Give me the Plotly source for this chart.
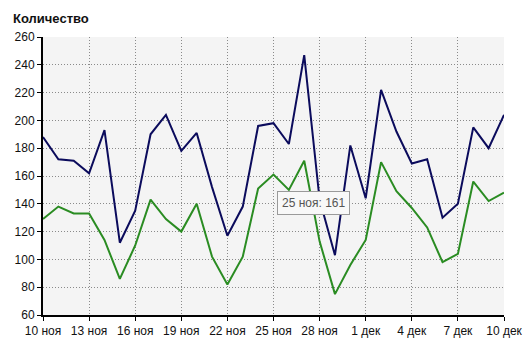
import plotly.graph_objects as go
import pandas as pd

dates = pd.date_range("2012-11-10", "2012-12-10", freq="D").strftime("%Y-%m-%d").tolist()

series_total = [188, 172, 171, 162, 193, 112, 135, 190, 204, 178, 191, 152, 117, 138, 196, 198,
                183, 247, 143, 103, 182, 144, 222, 192, 169, 172, 130, 140, 195, 180, 204]
series_green = [129, 138, 133, 133, 114, 86, 110, 143, 129, 120, 140, 102, 82, 102, 151, 161,
                150, 171, 113, 75, 96, 114, 170, 149, 137, 123, 98, 104, 156, 142, 148]

tick_dates = ["2012-11-10", "2012-11-13", "2012-11-16", "2012-11-19", "2012-11-22", "2012-11-25",
              "2012-11-28", "2012-12-01", "2012-12-04", "2012-12-07", "2012-12-10"]
tick_labels = ["10 ноя", "13 ноя", "16 ноя", "19 ноя", "22 ноя", "25 ноя",
               "28 ноя", "1 дек", "4 дек", "7 дек", "10 дек"]
y_ticks = [60, 80, 100, 120, 140, 160, 180, 200, 220, 240, 260]

tooltip_text = "25 ноя: 161"

fig = go.Figure()
fig.add_trace(go.Scatter(x=dates, y=series_total, mode="lines",
                         line=dict(color="#0b0b5c", width=2), hoverinfo="skip"))
fig.add_trace(go.Scatter(x=dates, y=series_green, mode="lines",
                         line=dict(color="#2a8c22", width=2), hoverinfo="skip"))

font_main = "Liberation Sans, Arial, sans-serif"

fig.update_layout(
    width=531, height=342,
    margin=dict(l=43, r=27, t=37, b=27),
    paper_bgcolor="white",
    plot_bgcolor="#f4f4f4",
    showlegend=False,
    font=dict(family=font_main, size=12, color="#111"),
    title=dict(text="<b>Количество</b>", xref="container", yref="container",
               x=13/531, xanchor="left", y=1-18/342, yanchor="middle",
               font=dict(size=13, color="#111", family=font_main)),
    xaxis=dict(type="date", range=[dates[0], dates[-1]],
               tickvals=tick_dates, ticktext=tick_labels, automargin=False,
               showgrid=True, gridcolor="#8a8a8a", griddash="1px,2px", gridwidth=1,
               showline=True, linecolor="black", linewidth=2,
               ticks="outside", ticklen=4, tickcolor="black", tickwidth=1,
               zeroline=False, tickfont=dict(size=12, color="#111")),
    yaxis=dict(range=[60, 260], tickvals=y_ticks, automargin=False,
               showgrid=True, gridcolor="#8a8a8a", griddash="1px,2px", gridwidth=1,
               showline=True, linecolor="black", linewidth=2,
               ticks="outside", ticklen=4, tickcolor="black", tickwidth=1,
               zeroline=False, tickfont=dict(size=12, color="#111")),
)

# tooltip box
fig.add_annotation(x="2012-11-27 15:00", y=140.5, xref="x", yref="y",
                   text=tooltip_text, showarrow=False,
                   font=dict(size=12, color="#555", family=font_main),
                   bgcolor="#f8f8f8", bordercolor="#9a9a9a", borderwidth=1, borderpad=4)

fig.write_html("out.html")
